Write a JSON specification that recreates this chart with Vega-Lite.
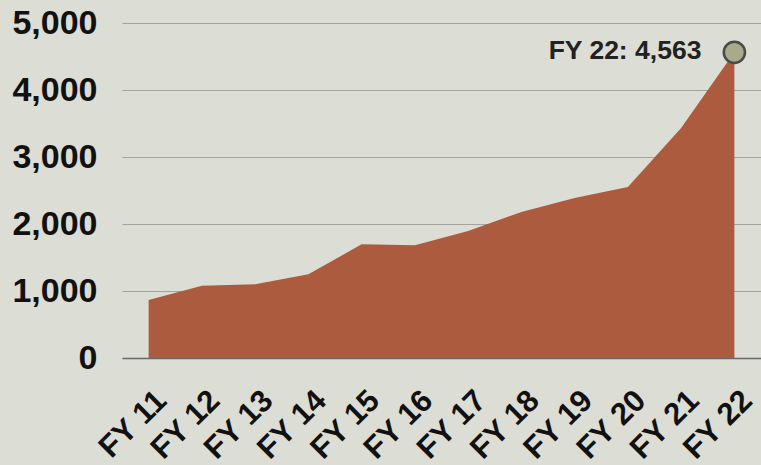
{
  "$schema": "https://vega.github.io/schema/vega-lite/v6.json",
  "width": 639,
  "height": 335,
  "autosize": {"type": "none"},
  "padding": {"left": 122, "top": 23, "right": 0, "bottom": 107},
  "background": "#dcddd4",
  "config": {
    "view": {"stroke": null},
    "font": "Liberation Sans"
  },
  "data": {
    "values": [
      {"year": "FY 11", "value": 866},
      {"year": "FY 12", "value": 1079},
      {"year": "FY 13", "value": 1100},
      {"year": "FY 14", "value": 1249},
      {"year": "FY 15", "value": 1697},
      {"year": "FY 16", "value": 1682},
      {"year": "FY 17", "value": 1895},
      {"year": "FY 18", "value": 2179},
      {"year": "FY 19", "value": 2388},
      {"year": "FY 20", "value": 2552},
      {"year": "FY 21", "value": 3433},
      {"year": "FY 22", "value": 4563}
    ]
  },
  "encoding": {
    "x": {
      "field": "year",
      "type": "ordinal",
      "scale": {"type": "point", "padding": 0.5},
      "axis": {
        "title": null,
        "labelAngle": -45,
        "labelFontSize": 31,
        "labelFontWeight": "bold",
        "labelColor": "#111111",
        "labelPadding": 27,
        "labelOverlap": false,
        "labelBound": false,
        "labelOffset": 2,
        "ticks": false,
        "domain": true,
        "domainColor": "#6a6a66",
        "domainWidth": 1.5,
        "grid": false
      }
    },
    "y": {
      "field": "value",
      "type": "quantitative",
      "scale": {"domain": [0, 5000], "nice": false},
      "axis": {
        "title": null,
        "values": [0, 1000, 2000, 3000, 4000, 5000],
        "format": ",d",
        "labelFontSize": 34,
        "labelFontWeight": "bold",
        "labelColor": "#111111",
        "labelPadding": 25,
        "labelOverlap": false,
        "labelBound": false,
        "ticks": false,
        "domain": false,
        "gridColor": "#a3a39c",
        "gridWidth": 1
      }
    }
  },
  "layer": [
    {
      "mark": {"type": "area", "color": "#ac5b3e"}
    },
    {
      "transform": [{"filter": "datum.year === 'FY 22'"}],
      "mark": {"type": "point", "filled": true, "size": 450, "fill": "#a9aa8c", "stroke": "#4a4a48", "strokeWidth": 2.5, "opacity": 1}
    },
    {
      "transform": [{"filter": "datum.year === 'FY 22'"}],
      "mark": {"type": "text", "align": "right", "dx": -33, "dy": -1, "fontSize": 26.5, "fontWeight": "bold", "color": "#222222"},
      "encoding": {"text": {"value": "FY 22: 4,563"}}
    }
  ]
}
